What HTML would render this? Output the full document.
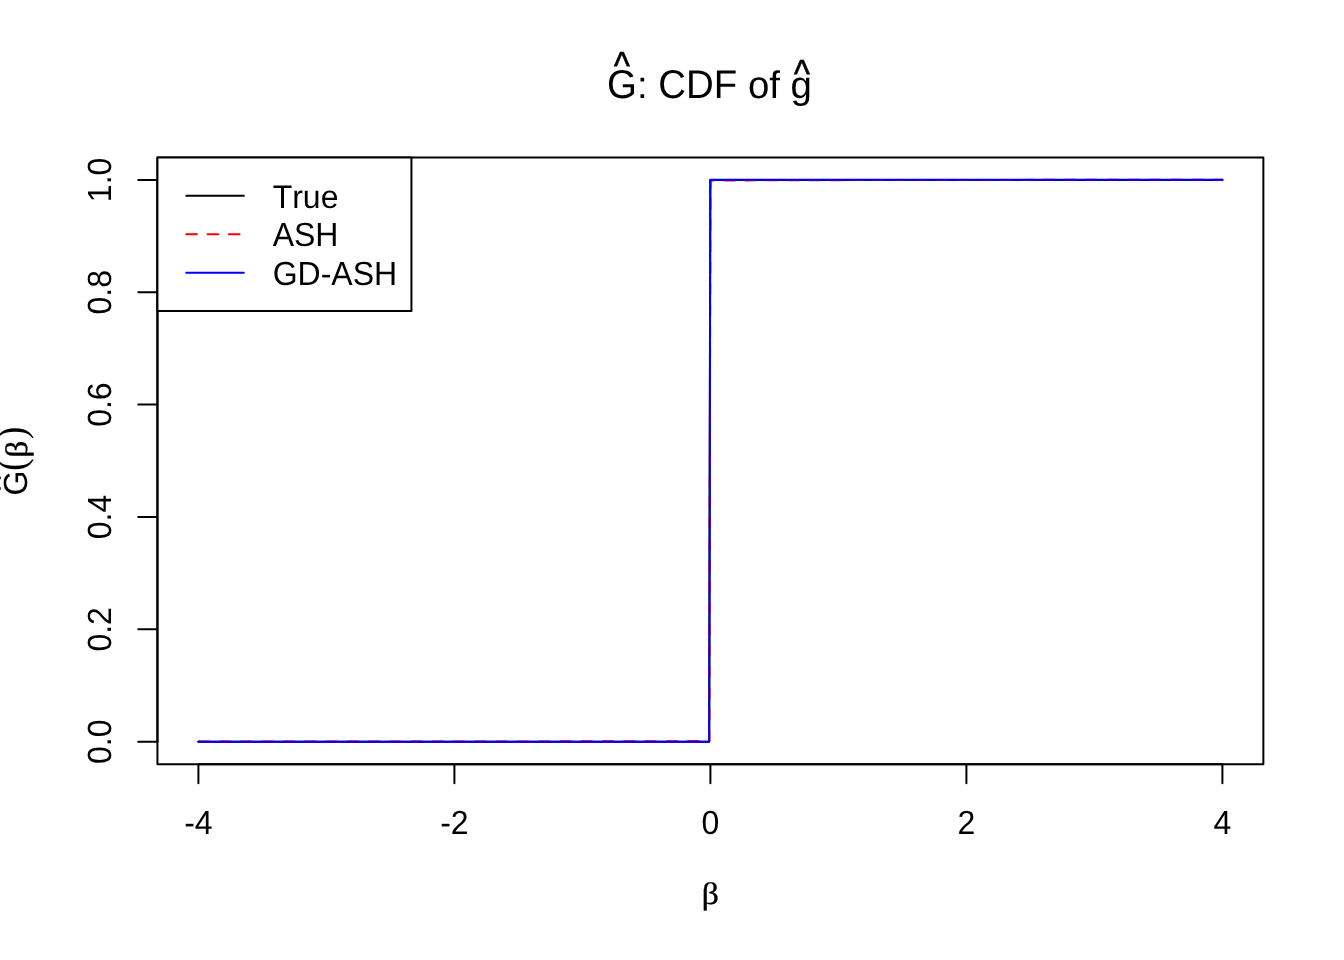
<!DOCTYPE html>
<html lang="en">
<head>
<meta charset="utf-8">
<title>G-hat: CDF of g-hat</title>
<style>
  html, body { margin: 0; padding: 0; background: #ffffff; }
  body { width: 1344px; height: 960px; overflow: hidden; }
  svg { display: block; }
  text { font-family: "Liberation Sans", sans-serif; fill: #000; text-rendering: geometricPrecision; font-kerning: none; }
  .ax { font-size: 32px; }
  .ttl { font-size: 38.4px; }
  .sym { font-family: "Liberation Serif", "DejaVu Serif", serif; }
  .beta { stroke: #000; stroke-width: 0.4px; }
  .hat { stroke: #000; stroke-width: 0.7px; stroke-linejoin: miter; }
  .ln { fill: none; stroke: #000; stroke-width: 2; stroke-linecap: round; stroke-linejoin: round; }
</style>
</head>
<body>
<svg width="1344" height="960" viewBox="0 0 1344 960">
  <rect x="0" y="0" width="1344" height="960" fill="#ffffff"/>

  <!-- title -->
  <g class="ttl">
    <text id="tG" transform="translate(607.1 97.9) scale(1 1.045)">G</text>
    <text id="tHat1" class="hat" transform="translate(622.0 79.35) scale(0.879 1.022)" text-anchor="middle">^</text>
    <text id="tColon" x="636.97" y="97.9">:</text>
    <text id="tCDF" transform="translate(658.33 97.9) scale(1 1.045)">CDF</text>
    <text id="tOf" x="747.91" y="97.9">of</text>
    <text id="tg" x="790.62" y="97.9">g</text>
    <text id="tHat2" class="hat" transform="translate(801.95 87.2) scale(0.879 1.022)" text-anchor="middle">^</text>
  </g>

  <!-- data curves -->
  <polyline class="ln" points="198.4,741.69 709.2,741.69 710.3,179.91 1222.4,179.91"/>
  <polyline class="ln" style="stroke:#ff0000" stroke-dasharray="10.64 10.64" points="198.4,741.55 500,741.45 650,741.25 709.3,741.0 710.45,180.45 760,180.35 860,180.1 950,179.93 1100,179.82 1222.4,179.72"/>
  <polyline class="ln" style="stroke:#0000ff" points="198.4,741.69 709.2,741.69 710.3,179.85 1222.4,179.85"/>

  <!-- plot box -->
  <rect class="ln" x="157.44" y="157.44" width="1105.92" height="606.72"/>

  <!-- x axis -->
  <path class="ln" d="M198.4 764.16H1222.4 M198.4 764.16V783.36 M454.4 764.16V783.36 M710.4 764.16V783.36 M966.4 764.16V783.36 M1222.4 764.16V783.36"/>
  <g class="ax" text-anchor="middle">
    <text transform="translate(198.4 833.6) scale(1 1.045)">-4</text>
    <text transform="translate(454.4 833.6) scale(1 1.045)">-2</text>
    <text transform="translate(710.4 833.6) scale(1 1.045)">0</text>
    <text transform="translate(966.4 833.6) scale(1 1.045)">2</text>
    <text transform="translate(1222.4 833.6) scale(1 1.045)">4</text>
  </g>

  <!-- y axis -->
  <path class="ln" d="M157.44 741.69V179.91 M157.44 741.69H138.24 M157.44 629.33H138.24 M157.44 516.98H138.24 M157.44 404.62H138.24 M157.44 292.27H138.24 M157.44 179.91H138.24"/>
  <g class="ax" text-anchor="middle">
    <text transform="translate(111.1 741.69) rotate(-90) scale(1 1.045)">0.0</text>
    <text transform="translate(111.1 629.33) rotate(-90) scale(1 1.045)">0.2</text>
    <text transform="translate(111.1 516.98) rotate(-90) scale(1 1.045)">0.4</text>
    <text transform="translate(111.1 404.62) rotate(-90) scale(1 1.045)">0.6</text>
    <text transform="translate(111.1 292.27) rotate(-90) scale(1 1.045)">0.8</text>
    <text transform="translate(111.1 179.91) rotate(-90) scale(1 1.045)">1.0</text>
  </g>

  <!-- x label -->
  <text class="ax sym beta" id="xlab" transform="translate(710.2 904) scale(1.05 0.97)" text-anchor="middle">β</text>

  <!-- y label (rotated) -->
  <g class="ax" transform="translate(27.1 495.9) rotate(-90)">
    <text id="yG" transform="translate(0.5 0) scale(1 1.045)">G</text>
    <text id="yHat" class="hat" transform="translate(12.7 -15.9) scale(0.879 1.022)" text-anchor="middle">^</text>
    <text id="yP1" class="sym" transform="translate(24.9 -1.84) scale(0.93 1)" style="font-size:41px">(</text>
    <text id="yB" class="sym beta" transform="translate(38.2 0) scale(1.05 0.97)">β</text>
    <text id="yP2" class="sym" transform="translate(56.7 -1.84) scale(0.93 1)" style="font-size:41px">)</text>
  </g>

  <!-- legend -->
  <rect class="ln" x="157.44" y="157.44" width="254.0" height="153.6" fill="#ffffff" style="fill:#ffffff"/>
  <line class="ln" x1="186.24" y1="195.84" x2="243.84" y2="195.84"/>
  <line class="ln" style="stroke:#ff0000" stroke-dasharray="10.67 10.67" x1="186.24" y1="234.24" x2="243.84" y2="234.24"/>
  <line class="ln" style="stroke:#0000ff" x1="186.24" y1="272.64" x2="243.84" y2="272.64"/>
  <g class="ax">
    <text transform="translate(272.64 207.7) scale(1 1.02)">True</text>
    <text transform="translate(272.64 246.1) scale(1 1.045)">ASH</text>
    <text transform="translate(272.64 284.5) scale(1 1.045)">GD-ASH</text>
  </g>
</svg>
</body>
</html>
